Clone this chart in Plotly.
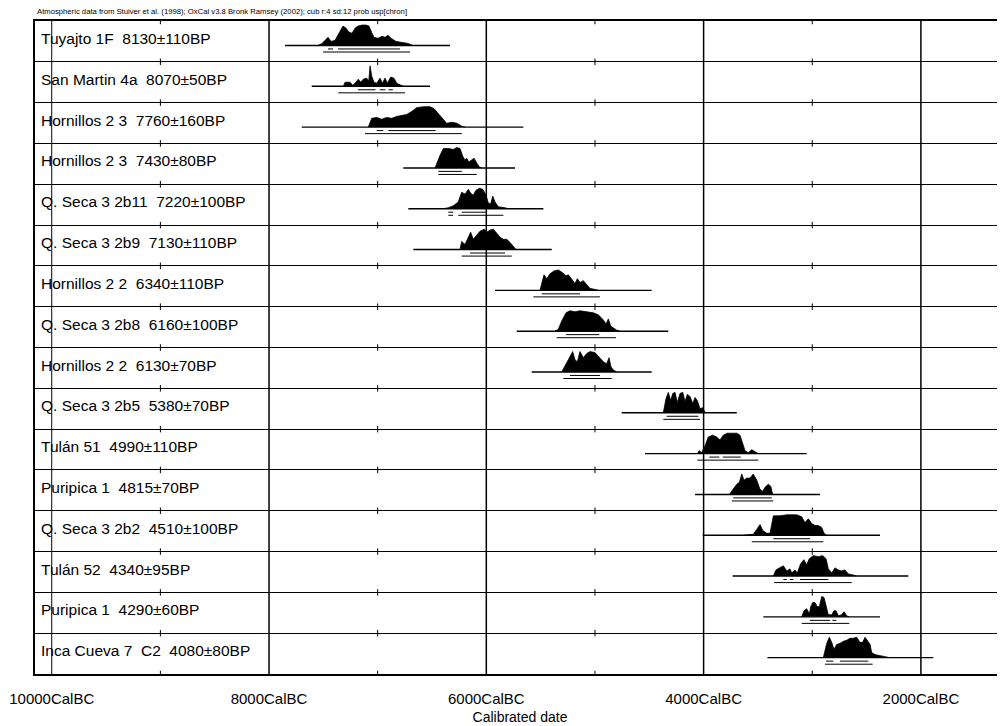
import plotly.graph_objects as go

# ---------------- data ----------------
labels = [
    "Tuyajto 1F  8130±110BP", "San Martin 4a  8070±50BP", "Hornillos 2 3  7760±160BP",
    "Hornillos 2 3  7430±80BP", "Q. Seca 3 2b11  7220±100BP", "Q. Seca 3 2b9  7130±110BP",
    "Hornillos 2 2  6340±110BP", "Q. Seca 3 2b8  6160±100BP", "Hornillos 2 2  6130±70BP",
    "Q. Seca 3 2b5  5380±70BP", "Tulán 51  4990±110BP", "Puripica 1  4815±70BP",
    "Q. Seca 3 2b2  4510±100BP", "Tulán 52  4340±95BP", "Puripica 1  4290±60BP",
    "Inca Cueva 7  C2  4080±80BP",
]

# plotted span of each calibration curve baseline (cal BC)
line_start = [7853, 7607, 7699, 6764, 6718, 6672, 5920, 5720, 5582, 4754, 4539, 4079, 4008, 3733, 3450, 3413]
line_end   = [6334, 6518, 5659, 5736, 5475, 5398, 4478, 4325, 4478, 3695, 3051, 2929, 2376, 2116, 2376, 1886]

# probability distributions (cal BC, relative probability)
dens_years = [
    [7549,7512,7457,7429,7393,7347,7319,7291,7264,7236,7208,7181,7144,7107,7080,7052,7034,6997,6960,6932,6905,6877,6831,6776,6721,6675],
    [7316,7300,7254,7230,7208,7178,7156,7132,7101,7082,7070,7055,7034,7009,6978,6957,6932,6911,6880,6850,6825,6788,6764],
    [7086,7055,7009,6963,6917,6871,6825,6779,6733,6687,6641,6580,6518,6481,6451,6411,6365,6318,6272,6226,6196],
    [6472,6456,6426,6396,6350,6304,6272,6242,6217,6196,6180,6162,6134,6113,6088,6064,6042],
    [6400,6350,6304,6258,6227,6196,6166,6144,6120,6095,6064,6033,6003,5982,5960,5941,5920,5890,5828,5797],
    [6242,6227,6196,6166,6144,6120,6088,6058,6018,5996,5966,5936,5904,5874,5843,5812,5782,5751,5727],
    [5506,5490,5469,5444,5414,5377,5337,5297,5266,5245,5214,5184,5162,5138,5107,5076,5046,5000,4969],
    [5368,5337,5306,5266,5230,5184,5138,5076,5015,4969,4923,4898,4877,4855,4831,4800,4769],
    [5306,5276,5236,5205,5184,5162,5138,5107,5076,5046,5000,4953,4923,4892,4871,4852,4831,4800],
    [4371,4346,4325,4303,4284,4263,4242,4217,4192,4171,4150,4125,4100,4079,4058,4033,4008,3987],
    [4058,4040,4018,3987,3957,3916,3879,3849,3819,3782,3741,3695,3665,3640,3619,3589,3557,3527,3496],
    [3763,3727,3695,3671,3649,3628,3603,3573,3543,3511,3481,3456,3435,3404,3382,3364],
    [3635,3543,3511,3481,3456,3419,3389,3373,3358,3297,3235,3143,3097,3067,3036,3005,2975,2944,2913,2892,2867],
    [3358,3334,3303,3266,3235,3205,3189,3159,3138,3107,3077,3052,3027,2990,2944,2904,2873,2852,2821,2791,2760,2729,2699,2668,2622,2591],
    [3097,3076,3052,3027,3014,2996,2975,2954,2935,2913,2892,2873,2852,2821,2800,2782,2760,2729,2708,2683,2659],
    [2898,2883,2867,2843,2821,2800,2775,2745,2714,2683,2653,2622,2591,2561,2536,2514,2493,2468,2453,2423,2376,2315,2285],
]
dens_vals = [
    [0,2,8,4,5,14,19,17,13,12,17,19,20,20,19,12,8,7,9,8,10,7,4,3,2,0],
    [0,4,4,1,3,7,4,7,8,5,20,10,4,3,8,3,8,3,9,8,3,1,0],
    [0,9,10,8,10,9,11,12,13,16,20,21,21,19,15,9,4,5,4,1,0],
    [0,5,13,20,20,19,21,20,12,8,10,6,8,10,5,1,0],
    [0,1,3,7,17,15,20,16,14,19,21,20,14,6,5,13,7,2,1,0],
    [0,8,5,13,17,10,14,18,20,17,19,20,16,12,10,10,7,3,0],
    [0,8,16,12,17,20,21,18,15,16,12,7,12,8,10,6,2,1,0],
    [0,2,10,18,20,19,20,19,18,16,11,7,12,5,3,1,0],
    [0,6,13,20,12,10,20,14,18,20,19,14,10,8,14,5,2,0],
    [0,14,20,12,19,20,10,19,20,11,18,16,9,15,12,4,5,0],
    [0,3,1,8,17,19,17,14,19,21,21,21,19,10,3,1,4,2,0],
    [0,5,10,12,20,14,16,16,20,14,5,3,7,10,8,0],
    [0,1,6,11,5,2,2,12,20,20,21,21,19,13,17,12,10,10,8,2,0],
    [0,6,8,10,5,7,3,6,3,12,16,11,17,20,19,20,17,7,3,8,6,5,6,2,1,0],
    [0,6,8,3,10,14,14,10,10,20,19,10,2,2,6,6,1,2,5,1,0],
    [0,8,14,20,15,8,13,14,16,17,19,19,20,15,15,20,17,13,5,3,2,1,0],
]

# 68.2% and 95.4% highest probability ranges (cal BC)
r68 = [
    [[7457,7411],[7365,6794]], [[7180,7020],[6980,6930],[6900,6860]], [[7009,6948],[6902,6466]],
    [[6442,6226]], [[6350,6305],[6227,5997]], [[6150,5828]], [[5490,5138]], [[5266,4960]],
    [[5230,4953]], [[4340,4049]], [[3947,3855],[3824,3658]], [[3727,3373]], [[3358,3021]],
    [[3266,3235],[3205,3174],[3113,2852]], [[3021,2837],[2815,2778]], [[2873,2806],[2745,2484]],
]
r95 = [
    [[7503,6702]], [[7362,6748]], [[7117,6226]], [[6442,6088]], [[6350,6305],[6258,5843]],
    [[6227,5766]], [[5567,4953]], [[5352,4806]], [[5291,4846]], [[4371,4033]], [[4058,3496]],
    [[3740,3360]], [[3557,2898]], [[3352,2637]], [[3097,2659]], [[2883,2444]],
]

major_ticks = [10000, 8000, 6000, 4000, 2000]
tick_text = ["10000CalBC", "8000CalBC", "6000CalBC", "4000CalBC", "2000CalBC"]
minor_ticks = [9000, 7000, 5000, 3000]
header = ("Atmospheric data from Stuiver et al. (1998); OxCal v3.8 Bronk Ramsey (2002); "
          "cub r:4 sd:12 prob usp[chron]")
x_title = "Calibrated date"

# ---------------- figure ----------------
n = len(labels)
BASE = 0.6     # baseline position inside a row
H = 0.5        # height of a normalised distribution (row units)
FONT = "Liberation Sans, Arial, sans-serif"

fig = go.Figure()

# vertical grid lines
for t in major_ticks:
    fig.add_trace(go.Scatter(
        x=[t, t], y=[0, n], mode="lines", hoverinfo="skip", showlegend=False,
        line=dict(color="black", width=1 if t == major_ticks[0] else 1.5)))

# minor ticks on every row separator
mx, my = [], []
for t in minor_ticks:
    for r in range(n + 1):
        mx += [t, t, None]
        my += [r - 0.08, r + 0.08, None]
fig.add_trace(go.Scatter(x=mx, y=my, mode="lines", hoverinfo="skip", showlegend=False,
                         line=dict(color="black", width=1)))

for i in range(n):
    base = i + BASE
    vmax = max(dens_vals[i])
    xs = list(dens_years[i])
    ys = [base - v / vmax * H for v in dens_vals[i]]
    fig.add_trace(go.Scatter(x=xs, y=ys, mode="lines", fill="toself", fillcolor="black",
                             line=dict(color="black", width=0.8), hoverinfo="skip",
                             showlegend=False))
    # baseline
    fig.add_trace(go.Scatter(x=[line_start[i], line_end[i]], y=[base, base], mode="lines",
                             line=dict(color="black", width=1.4), hoverinfo="skip",
                             showlegend=False))
    # ranges
    for ranges, off, w in ((r68[i], 0.085, 1.0), (r95[i], 0.16, 1.0)):
        rx, ry = [], []
        for a, b in ranges:
            rx += [a, b, None]
            ry += [base + off, base + off, None]
        fig.add_trace(go.Scatter(x=rx, y=ry, mode="lines", line=dict(color="black", width=w),
                                 hoverinfo="skip", showlegend=False))
    fig.add_annotation(text=labels[i], xref="paper", x=0, xshift=4, xanchor="left",
                       y=i + 0.43, yref="y", yanchor="middle", showarrow=False,
                       font=dict(family=FONT, size=15.5, color="black"))

fig.add_annotation(text=header, xref="paper", x=0, xanchor="left", yref="paper", y=1,
                   yshift=3, yanchor="bottom", showarrow=False,
                   font=dict(family=FONT, size=7.7, color="black"))

# page body adds an 8px offset; size the figure so it ends at the window edge
fig.update_layout(
    width=997, height=718,
    margin=dict(l=27, r=0, t=13, b=52),
    paper_bgcolor="white", plot_bgcolor="white",
    font=dict(family=FONT, color="black"),
    xaxis=dict(range=[10154, 1226], tickvals=major_ticks, ticktext=tick_text,
               showgrid=False, zeroline=False, showline=True, linecolor="black", linewidth=1.5,
               mirror=True, ticks="", ticklabelstandoff=10,
               tickfont=dict(family=FONT, size=15, color="black"),
               title=dict(text=x_title, font=dict(family=FONT, size=14, color="black"),
                          standoff=6)),
    yaxis=dict(range=[n, 0], tickvals=list(range(n + 1)), showticklabels=False,
               showgrid=True, gridcolor="black", gridwidth=1.3, zeroline=False,
               showline=True, linecolor="black", linewidth=1.5, mirror=False, ticks=""),
)

fig.write_html("out.html")
